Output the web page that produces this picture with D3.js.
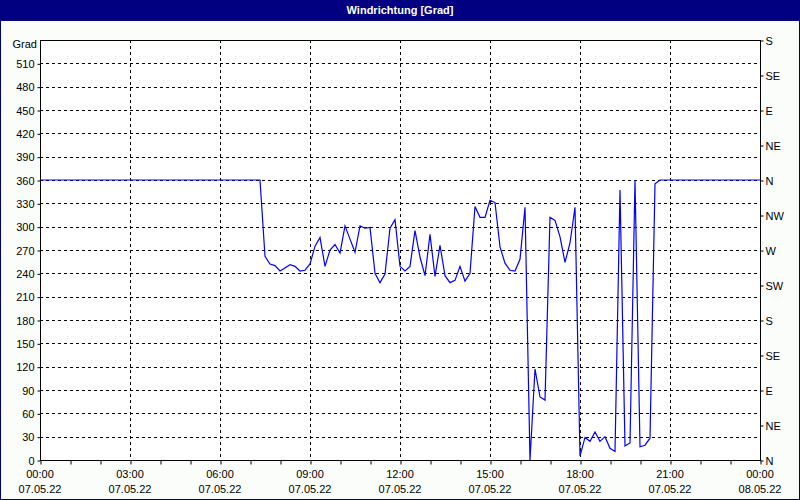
<!DOCTYPE html>
<html>

<head>
    <meta charset="UTF-8">
    <title>Windrichtung</title>
    <script src="https://d3js.org/d3.v7.min.js"></script>
    <style>
        body {
            margin: 0;
            background-color: #fbfdfb;
        }
        text {
            font-family: "Liberation Sans", Arial, sans-serif;
            font-size: 11px;
            fill: #000;
        }
    </style>
</head>

<body>
    <div id="chart"></div>
    <script>
        // wind direction, one reading every 10 minutes from 07.05.22 00:00 to 08.05.22 00:00
        var startTime = new Date(2022, 4, 7, 0, 0);
        var endTime = new Date(2022, 4, 8, 0, 0);
        var stepMinutes = 10;

        var directionValues = [
            360, 360, 360, 360, 360, 360, 360, 360, 360, 360, 360, 360,
            360, 360, 360, 360, 360, 360, 360, 360, 360, 360, 360, 360,
            360, 360, 360, 360, 360, 360, 360, 360, 360, 360, 360, 360,
            360, 360, 360, 360, 360, 360, 360, 360, 360, 262, 252, 250,
            243, 247, 251, 249, 243, 244, 252, 275, 286, 249, 270, 277,
            266, 301, 284, 267, 301, 298, 299, 240, 228, 239, 298, 309,
            249, 243, 249, 295, 261, 237, 290, 236, 276, 237, 228, 231,
            249, 230, 240, 326, 312, 312, 334, 331, 274, 253, 244, 243,
            258, 325, 0, 117, 81, 77, 312, 308, 287, 254, 279, 325,
            5, 29, 24, 36, 24, 30, 15, 11, 347, 18, 22, 360,
            17, 19, 28, 355, 360, 360, 360, 360, 360, 360, 360, 360,
            360, 360, 360, 360, 360, 360, 360, 360, 360, 360, 360, 360,
            360
        ];

        var gradTicks = [0, 30, 60, 90, 120, 150, 180, 210, 240, 270, 300, 330, 360, 390, 420, 450, 480, 510];
        var compassTicks = [0, 45, 90, 135, 180, 225, 270, 315, 360, 405, 450, 495, 540];
        var compassLabels = ['N', 'NE', 'E', 'SE', 'S', 'SW', 'W', 'NW', 'N', 'NE', 'E', 'SE', 'S'];

        (function(d3) {
            var width = 800;
            var height = 500;
            var left = 40, right = 760, top = 40, bottom = 460;

            var svg = d3.select('#chart')
                .append('svg')
                .attr('width', width)
                .attr('height', height);

            // window frame and title bar
            svg.append('rect')
                .attr('x', 0.5).attr('y', 0.5)
                .attr('width', width - 1).attr('height', height - 1)
                .attr('fill', '#fbfdfb')
                .attr('stroke', '#000080')
                .attr('stroke-width', 1);
            svg.append('rect')
                .attr('x', 0).attr('y', 0)
                .attr('width', width).attr('height', 21)
                .attr('fill', '#000080');
            svg.append('text')
                .attr('x', width / 2)
                .attr('y', 14)
                .attr('text-anchor', 'middle')
                .style('font-weight', 'bold')
                .style('fill', '#fff')
                .text('Windrichtung [Grad]');

            var x = d3.scaleTime()
                .domain([startTime, endTime])
                .range([left, right]);
            var y = d3.scaleLinear()
                .domain([0, 540])
                .range([bottom, top]);

            var data = directionValues.map(function(v, i) {
                return { t: d3.timeMinute.offset(startTime, i * stepMinutes), v: v };
            });

            // plot background
            svg.append('rect')
                .attr('x', left).attr('y', top)
                .attr('width', right - left).attr('height', bottom - top)
                .attr('fill', '#fff');

            // grid
            var grid = svg.append('g')
                .attr('stroke', '#000')
                .attr('stroke-dasharray', '3,3')
                .attr('shape-rendering', 'crispEdges');
            grid.selectAll('line.h')
                .data(gradTicks.filter(function(d) { return d > 0; }))
                .enter().append('line')
                .attr('class', 'h')
                .attr('x1', left).attr('x2', right)
                .attr('y1', function(d) { return Math.round(y(d)) + 0.5; })
                .attr('y2', function(d) { return Math.round(y(d)) + 0.5; });
            var gridTimes = x.ticks(d3.timeHour.every(3)).filter(function(d) {
                return d > startTime && d < endTime;
            });
            grid.selectAll('line.v')
                .data(gridTimes)
                .enter().append('line')
                .attr('class', 'v')
                .attr('y1', top).attr('y2', bottom)
                .attr('x1', function(d) { return Math.round(x(d)) + 0.5; })
                .attr('x2', function(d) { return Math.round(x(d)) + 0.5; });

            // data line
            var line = d3.line()
                .x(function(d) { return x(d.t); })
                .y(function(d) { return y(d.v); });
            svg.append('path')
                .datum(data)
                .attr('d', line)
                .attr('fill', 'none')
                .attr('stroke', '#0000ff')
                .attr('stroke-width', 1.2);

            // plot frame
            svg.append('rect')
                .attr('x', left + 0.5).attr('y', top + 0.5)
                .attr('width', right - left).attr('height', bottom - top)
                .attr('fill', 'none')
                .attr('stroke', '#000')
                .attr('shape-rendering', 'crispEdges');

            // left axis
            var yAxis = d3.axisLeft(y)
                .tickValues(gradTicks)
                .tickSize(3)
                .tickPadding(3);
            var gLeft = svg.append('g')
                .attr('transform', 'translate(' + (left + 0.5) + ',0.5)')
                .call(yAxis);
            gLeft.select('.domain').remove();
            gLeft.selectAll('text').style('font-size', '11px').style('font-family', null);
            svg.append('text')
                .attr('x', 37)
                .attr('y', 48)
                .attr('text-anchor', 'end')
                .text('Grad');

            // right axis with compass labels
            var yRight = d3.axisRight(y)
                .tickValues(compassTicks)
                .tickFormat(function(d, i) { return compassLabels[i]; })
                .tickSize(3)
                .tickPadding(2);
            var gRight = svg.append('g')
                .attr('transform', 'translate(' + (right + 0.5) + ',0.5)')
                .call(yRight);
            gRight.select('.domain').remove();
            gRight.selectAll('text').style('font-size', '11px').style('font-family', null);

            // bottom axis: hourly ticks, labels every 3 hours in two lines
            var xAxis = d3.axisBottom(x)
                .ticks(d3.timeHour.every(1))
                .tickSize(4)
                .tickFormat('');
            var gBottom = svg.append('g')
                .attr('transform', 'translate(0.5,' + (bottom + 0.5) + ')')
                .call(xAxis);
            gBottom.select('.domain').remove();

            var fmtTime = d3.timeFormat('%H:%M');
            var fmtDate = d3.timeFormat('%d.%m.%y');
            var labelTimes = x.ticks(d3.timeHour.every(3));
            var labels = svg.append('g').selectAll('g')
                .data(labelTimes)
                .enter().append('g')
                .attr('transform', function(d) { return 'translate(' + x(d) + ',0)'; });
            labels.append('text')
                .attr('y', 478)
                .attr('text-anchor', 'middle')
                .text(fmtTime);
            labels.append('text')
                .attr('y', 493)
                .attr('text-anchor', 'middle')
                .text(fmtDate);

        })(window.d3);
    </script>
</body>

</html>
